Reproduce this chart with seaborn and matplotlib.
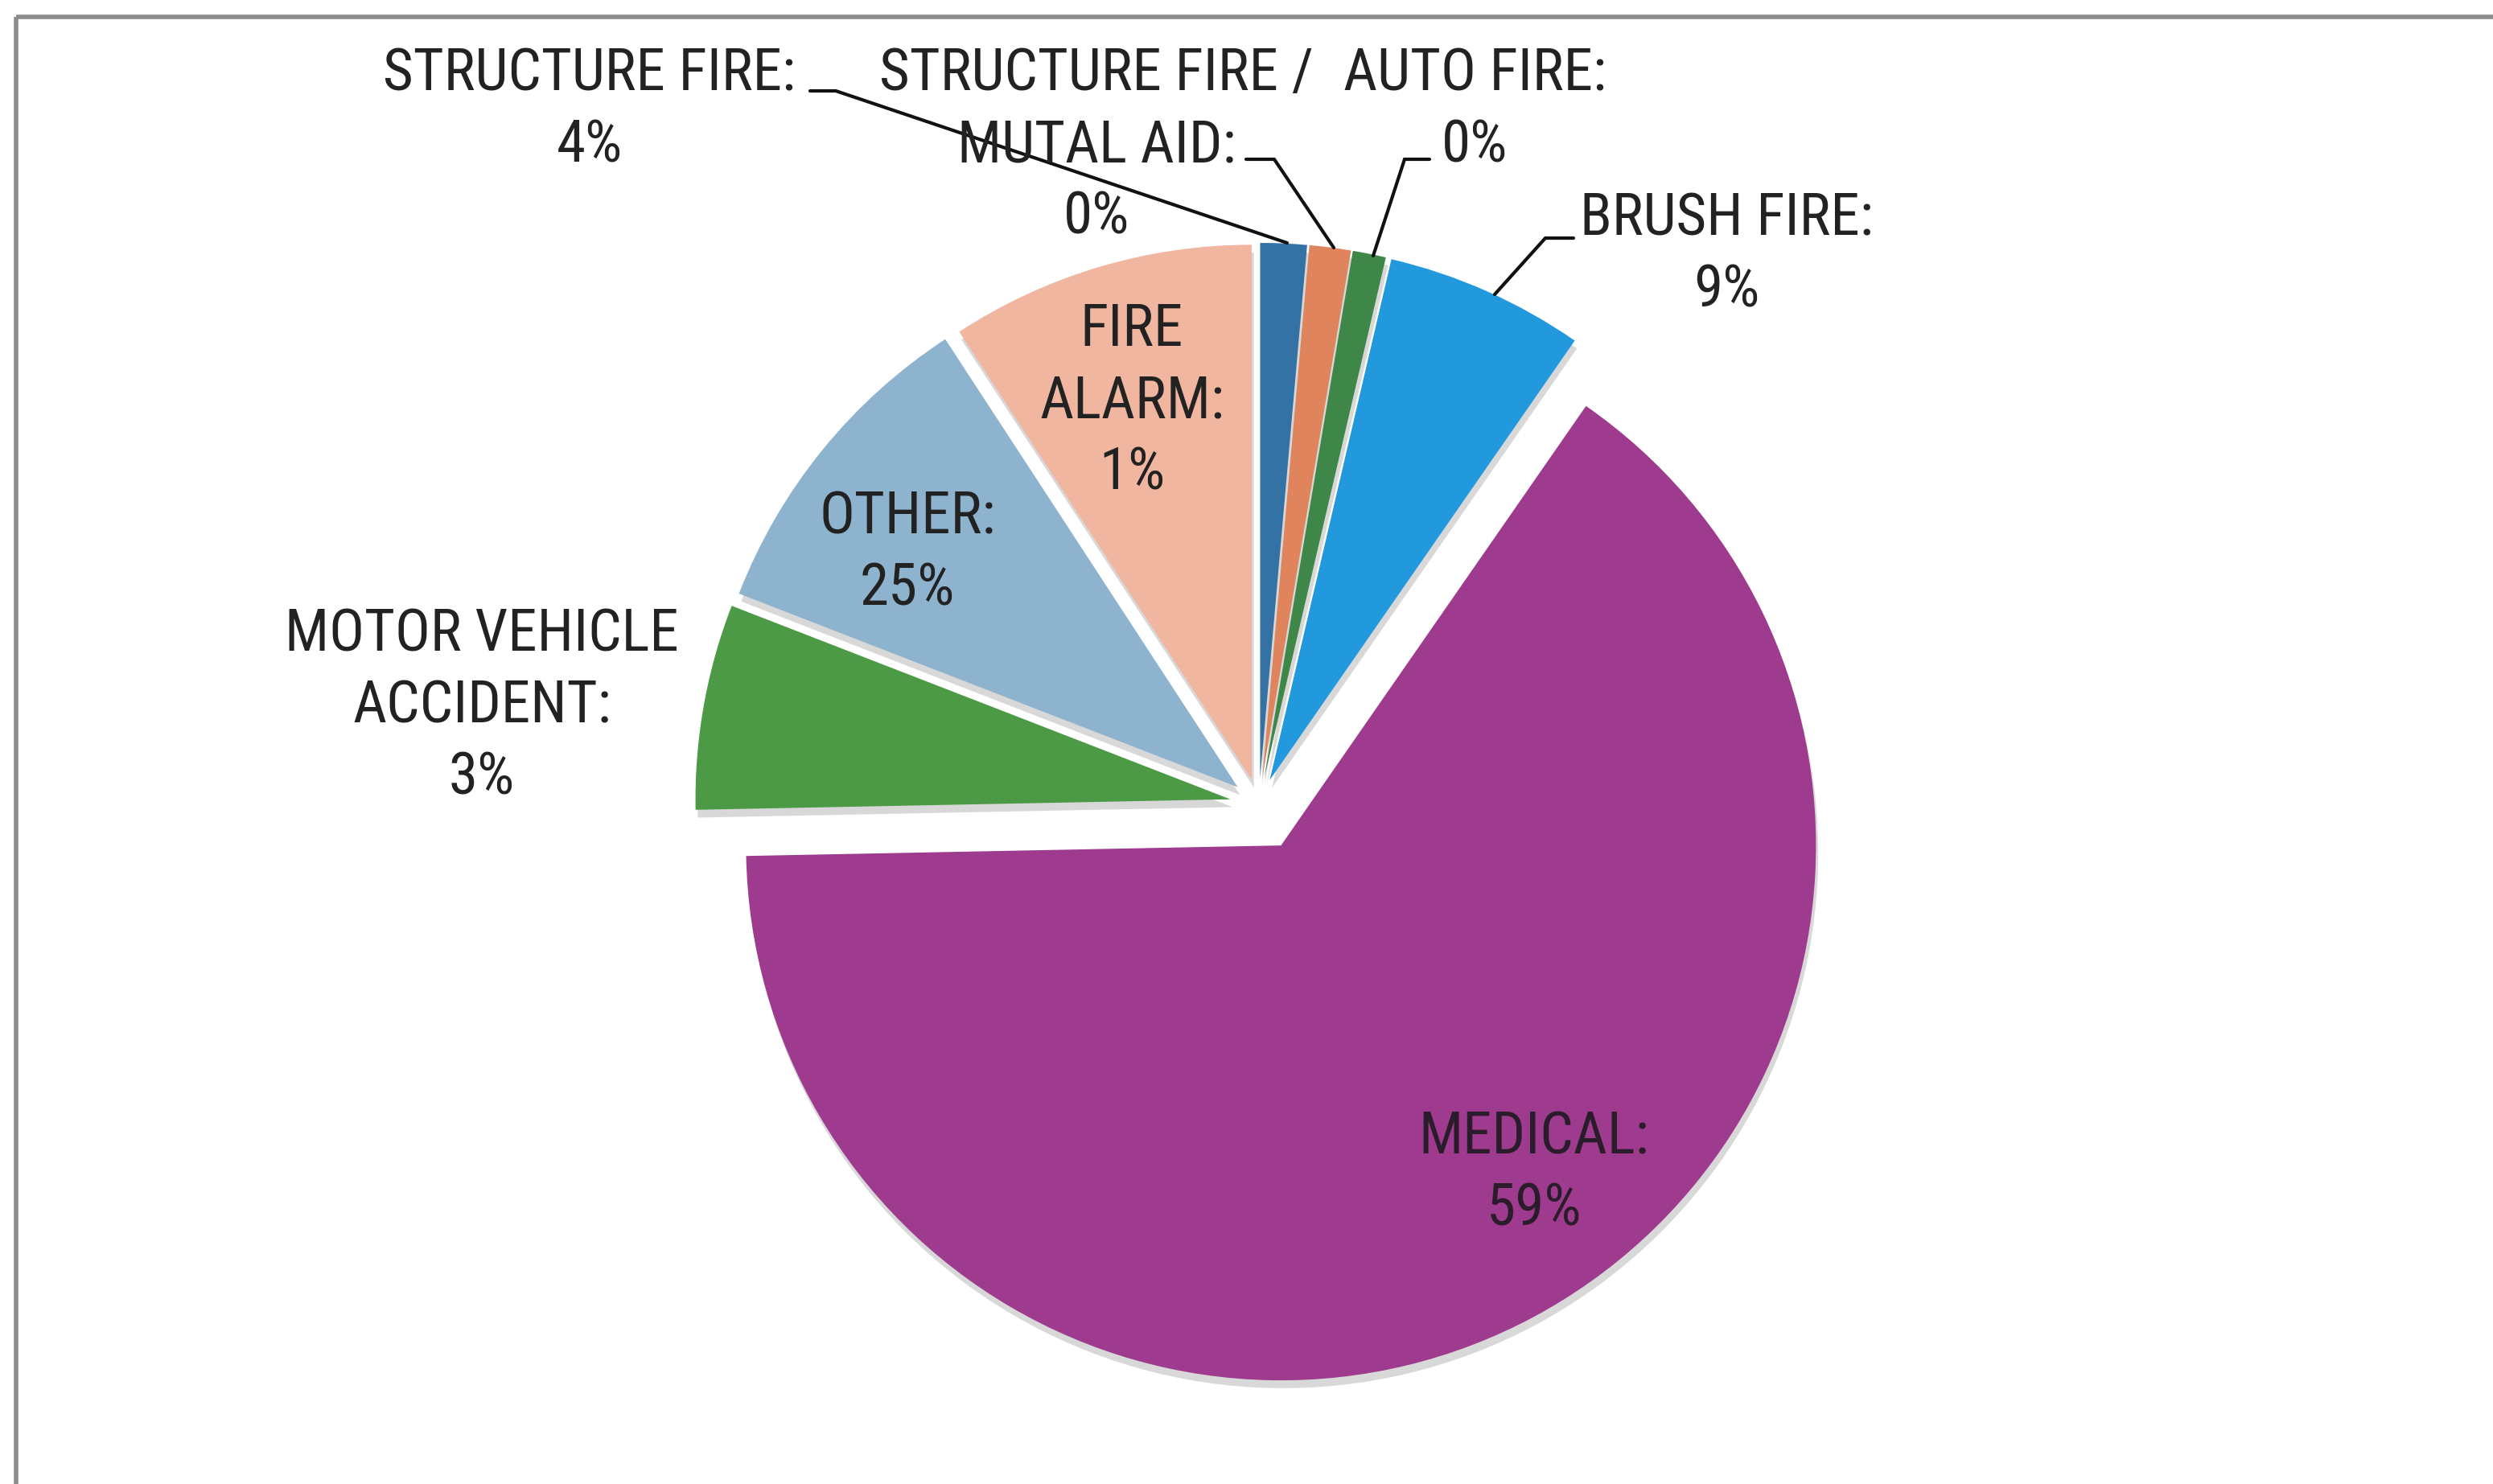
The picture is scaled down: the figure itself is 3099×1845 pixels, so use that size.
import matplotlib
matplotlib.use("Agg")
import matplotlib.pyplot as plt
from matplotlib import font_manager
import seaborn as sns

# ---- data (slice shares; printed labels as shown) ----
categories = ["STRUCTURE FIRE", "STRUCTURE FIRE /\nMUTAL AID", "AUTO FIRE", "BRUSH FIRE",
              "MEDICAL", "MOTOR VEHICLE\nACCIDENT", "OTHER", "FIRE\nALARM"]
shares = [1.4, 1.25, 1.0, 6.0, 65.0, 6.2, 9.9, 9.2]
printed_pct = ["4%", "0%", "0%", "9%", "59%", "3%", "25%", "1%"]
colors = ["#3472a6", "#df845c", "#3f8748", "#2399dd", "#9e3b8f", "#4c9a45", "#8db3cf", "#f0b69f"]

sns.set_theme(style="white")
names = {f.name for f in font_manager.fontManager.ttflist}
cands = ["Liberation Sans Narrow", "Roboto Condensed", "Noto Sans Condensed",
         "Open Sans Condensed", "DejaVu Sans Condensed", "Liberation Sans"]
main = next((c for c in cands if c in names), "DejaVu Sans")
FAM = [main, "DejaVu Sans"]
plt.rcParams["font.family"] = FAM

W, H = 3099, 1845
fig = plt.figure(figsize=(W / 100, H / 100), dpi=100)
fig.patch.set_facecolor("white")
ax = fig.add_axes([0, 0, 1, 1])
ax.set_xlim(0, W)
ax.set_ylim(0, H)

# size the font so that "STRUCTURE FIRE:" is as wide as in the reference (~512 px)
probe = ax.text(0, 0, "STRUCTURE FIRE:", fontsize=40, family=FAM)
fig.canvas.draw()
wpx = probe.get_window_extent().width
probe.remove()
FS = 40 * 512 / wpx

explode = [33, 33, 33, 33, 58, 36, 34, 32]
ax.pie(shares, colors=colors, startangle=90, counterclock=False,
       center=(1565, H - 1000), radius=665, explode=explode,
       wedgeprops=dict(linewidth=0),
       shadow=dict(ox=2, oy=-7, facecolor="#505050", edgecolor="none", alpha=0.22))
ax.set_xlim(0, W)
ax.set_ylim(0, H)
ax.set_aspect("equal")
ax.axis("off")

# frame (top and left border of the scanned box)
ax.plot([20, W], [H - 21, H - 21], color="#8c8c8c", lw=4, solid_capstyle="butt")
ax.plot([20, 20], [0, H - 21], color="#8c8c8c", lw=4, solid_capstyle="butt")

tc = "#222222"
STEP = 89
def lab(i, x, y_first, color=tc):
    lines = f"{categories[i]}:".split("\n") + [printed_pct[i]]
    for k, s in enumerate(lines):
        ax.text(x, H - (y_first + k * STEP), s, ha="center", va="center",
                fontsize=FS, color=color, family=FAM)

def leader(pts):
    ax.plot([p[0] for p in pts], [H - p[1] for p in pts], color="#111111", lw=3,
            solid_joinstyle="miter")

lab(0, 733, 93)
leader([(1007, 113), (1039, 113), (1600, 302)])
lab(1, 1363, 93)
leader([(1549, 198), (1584, 198), (1658, 308)])
lab(2, 1833, 93)
leader([(1777, 198), (1746, 198), (1707, 318)])
lab(3, 2146, 273)
leader([(1956, 296), (1921, 296), (1858, 366)])
lab(7, 1407, 411)
lab(6, 1128, 644)
lab(5, 599, 790)
lab(4, 1907, 1415, color="#2a1c2a")

fig.savefig("out.png", dpi=100, facecolor="white")
